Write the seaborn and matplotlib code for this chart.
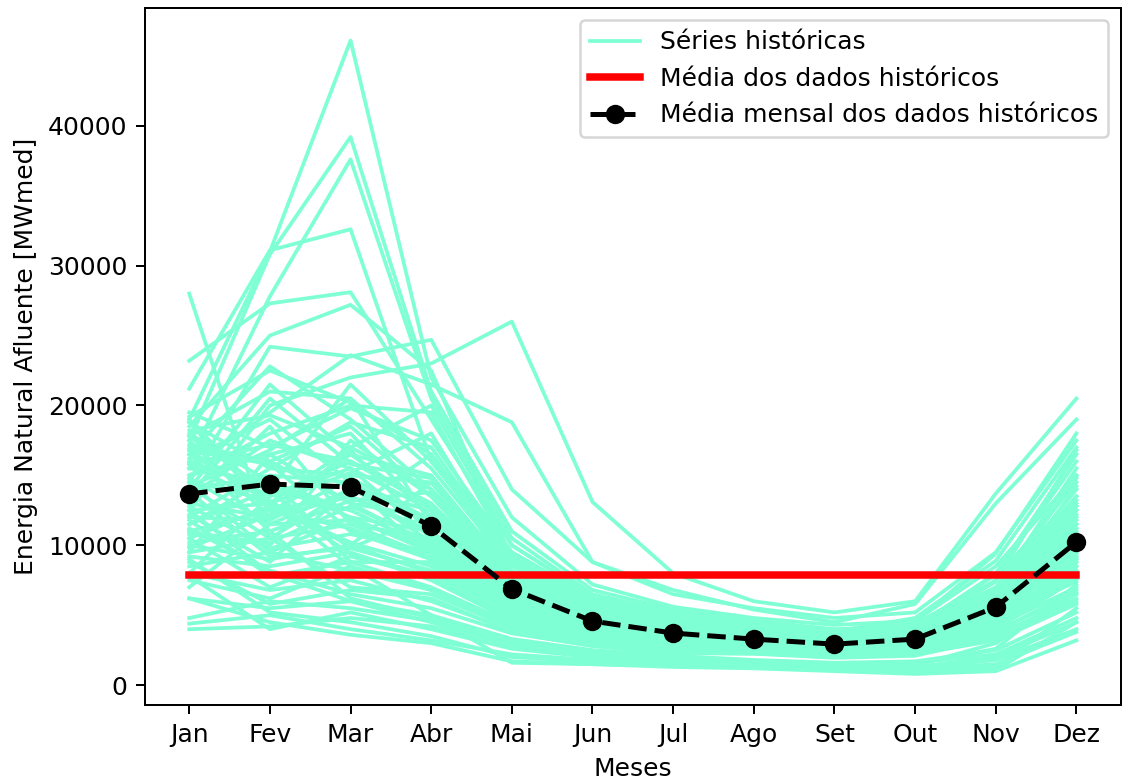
import numpy as np
import pandas as pd
import matplotlib
matplotlib.use("Agg")
import matplotlib.pyplot as plt
import seaborn as sns

meses = ["Jan", "Fev", "Mar", "Abr", "Mai", "Jun", "Jul", "Ago", "Set", "Out", "Nov", "Dez"]

# Historical series (MWmed), one row per year, Jan..Dez
series_grupo_1 = [
    [19000, 31000, 46100, 22000, 12000, 7200, 5600, 4800, 4300, 4600, 8500, 15000],
    [17500, 30800, 39200, 21000, 11000, 6800, 5400, 4600, 4000, 4200, 7000, 13500],
    [16000, 27800, 37600, 20500, 10500, 6500, 5200, 4500, 3900, 4000, 6500, 12500],
    [21200, 31100, 32600, 16000, 9500, 6200, 5000, 4300, 3800, 4400, 7500, 14500],
    [28000, 10500, 14000, 12500, 7000, 4800, 3900, 3400, 3000, 3300, 5800, 11000],
    [23200, 27300, 28100, 19000, 10000, 6400, 5000, 4200, 3700, 4100, 8000, 16500],
    [18500, 25000, 27200, 22500, 9000, 6000, 4800, 4100, 3600, 3800, 6800, 13000],
    [14500, 24200, 23500, 24700, 14000, 8800, 6500, 5500, 4800, 5200, 9500, 17500],
    [12500, 20000, 22000, 23000, 26000, 13100, 8000, 6000, 5200, 6000, 13700, 20500],
    [15500, 19500, 23600, 21500, 18800, 8800, 6800, 5400, 4500, 5800, 13000, 19000],
]
series_grupo_2 = [
    [19200, 22500, 20200, 16500, 9000, 6000, 4800, 4250, 3750, 3900, 6400, 12000],
    [17800, 21000, 20500, 15500, 8500, 5800, 4600, 4150, 3650, 3800, 5900, 11500],
    [19500, 17000, 19800, 17500, 9500, 6200, 4900, 4450, 3850, 4800, 8900, 17000],
    [16500, 22800, 19000, 14000, 8000, 5400, 4300, 3950, 3550, 4200, 7900, 16000],
    [18200, 19300, 17000, 20000, 10000, 6300, 5000, 4450, 3950, 4100, 6600, 15000],
    [15000, 18000, 20000, 19500, 9200, 5900, 4700, 4250, 3750, 4500, 9400, 18000],
    [17000, 16000, 18500, 13500, 7500, 5200, 4200, 3850, 3450, 3700, 6900, 14000],
    [16000, 14000, 21500, 16000, 8800, 5600, 4500, 4050, 3550, 3900, 6200, 12800],
    [14000, 21500, 16500, 12500, 7200, 4900, 4000, 3650, 3250, 3500, 5600, 10500],
    [18800, 15500, 15000, 14500, 8200, 5500, 4400, 3950, 3450, 4000, 7400, 16800],
]
series_grupo_3 = [
    [15000, 16500, 18000, 12000, 7000, 4800, 3900, 3650, 3250, 3600, 5900, 10000],
    [14000, 15000, 14500, 11500, 6800, 4600, 3800, 3550, 3150, 3400, 5400, 9500],
    [16500, 13500, 16000, 13000, 7200, 4900, 3900, 3650, 3250, 3700, 6400, 11500],
    [13500, 17500, 15500, 10500, 6500, 4500, 3700, 3450, 3050, 3300, 5200, 9000],
    [18800, 12500, 13500, 11000, 6600, 4600, 3700, 3450, 3150, 3600, 6000, 12000],
    [15500, 14500, 12000, 9500, 6000, 4300, 3500, 3350, 3050, 3500, 6200, 10800],
    [12500, 13000, 17000, 14000, 7500, 5000, 4000, 3750, 3350, 3800, 6600, 13200],
    [17200, 16000, 13000, 10000, 6200, 4400, 3600, 3350, 2950, 3200, 4900, 8500],
    [14800, 11500, 14000, 12500, 7000, 4700, 3800, 3550, 3150, 3500, 5600, 9800],
    [16800, 15800, 11000, 9000, 5800, 4200, 3400, 3250, 2950, 3400, 5800, 11200],
]
series_grupo_4 = [
    [13000, 12000, 13500, 10800, 6300, 4400, 3600, 3350, 2950, 3300, 5300, 8800],
    [11500, 14000, 12500, 9800, 5900, 4200, 3400, 3250, 2850, 3200, 5000, 9200],
    [14200, 10500, 11500, 9200, 5600, 4000, 3300, 3150, 2850, 3300, 5400, 10200],
    [12000, 11800, 14800, 11800, 6500, 4500, 3600, 3350, 2950, 3100, 4700, 7800],
    [15800, 12800, 10200, 8500, 5400, 3900, 3200, 3050, 2750, 3200, 5700, 12500],
    [10800, 10200, 12800, 10200, 6000, 4200, 3400, 3250, 2850, 3300, 6000, 11800],
    [13800, 9200, 9800, 8200, 5200, 3800, 3100, 2950, 2650, 2900, 4600, 8200],
    [11000, 12500, 11200, 9000, 5500, 3900, 3200, 3050, 2750, 3000, 4900, 9600],
    [12800, 9800, 10800, 9500, 5700, 4000, 3300, 3150, 2750, 3100, 5100, 10500],
    [14600, 13200, 9400, 7800, 5000, 3700, 3000, 2950, 2650, 3000, 4800, 7400],
]
series_grupo_5 = [
    [10000, 9000, 10000, 8000, 4800, 3500, 2900, 2750, 2450, 2700, 4200, 7000],
    [9200, 8500, 9500, 7500, 4600, 3400, 2800, 2650, 2350, 2600, 3900, 6500],
    [11800, 7800, 8800, 7000, 4400, 3200, 2600, 2550, 2250, 2500, 4000, 7600],
    [8500, 9500, 8200, 6800, 4200, 3100, 2600, 2450, 2250, 2800, 5200, 9000],
    [10500, 7000, 9200, 7800, 4700, 3300, 2700, 2650, 2350, 2900, 4400, 8000],
    [8000, 6800, 7500, 6000, 3900, 2900, 2400, 2350, 2150, 2300, 3600, 6200],
    [9500, 10500, 7000, 6500, 4100, 3000, 2500, 2450, 2150, 2400, 3800, 6800],
    [7500, 6200, 8500, 6800, 4000, 2900, 2400, 2350, 2050, 2200, 3200, 5800],
    [11200, 8200, 6500, 5500, 3700, 2800, 2300, 2250, 2050, 2500, 4600, 8500],
    [8800, 5800, 6800, 6200, 3800, 2800, 2300, 2250, 1950, 2100, 3400, 6000],
]
series_grupo_6 = [
    [6200, 5500, 6000, 5000, 3300, 2500, 2100, 1800, 1600, 1700, 2500, 5200],
    [4800, 6000, 5500, 4600, 3100, 2400, 2000, 1700, 1500, 1600, 2200, 4800],
    [4000, 4200, 4800, 4200, 2900, 2200, 1900, 1600, 1400, 1300, 2000, 4500],
    [7800, 4000, 5200, 4000, 2600, 2000, 1700, 1500, 1300, 1200, 1800, 4000],
    [4400, 5000, 4000, 3200, 2200, 1800, 1600, 1400, 1200, 1100, 1500, 3800],
    [6200, 4500, 3600, 3000, 1700, 1500, 1300, 1200, 1000, 800, 1000, 3200],
    [16800, 13000, 8500, 5000, 1600, 1500, 1400, 1300, 1200, 1000, 1100, 4500],
    [9000, 5200, 4500, 3500, 2000, 1700, 1500, 1300, 1100, 900, 1300, 5500],
    [12500, 8000, 6000, 4500, 2800, 2200, 1800, 1600, 1400, 1500, 2600, 7200],
    [10200, 11000, 6200, 4800, 3000, 2300, 1900, 1700, 1500, 1400, 3000, 6600],
]
series_grupo_7 = [
    [17500, 12000, 16500, 15000, 8000, 5200, 4200, 3700, 3200, 3500, 6000, 12500],
    [9500, 16500, 13000, 12000, 6800, 4600, 3800, 3400, 3000, 3400, 5200, 8800],
    [13000, 18500, 11500, 10500, 6500, 4500, 3700, 3300, 2900, 3200, 6500, 13500],
    [11000, 10000, 17500, 13500, 7200, 4800, 3900, 3400, 3000, 3300, 5000, 9200],
    [18000, 14500, 12500, 16500, 7800, 5000, 4000, 3500, 3100, 3000, 4800, 11500],
    [8000, 13500, 15500, 12500, 6800, 4500, 3600, 3200, 2800, 3100, 5800, 10500],
    [14500, 9500, 12000, 11000, 6200, 4300, 3500, 3100, 2700, 3200, 5500, 12200],
    [16200, 19000, 14500, 9000, 5800, 4100, 3400, 3000, 2600, 2900, 4600, 7800],
    [12000, 15500, 18800, 17000, 9000, 5600, 4400, 3800, 3300, 3700, 6800, 14800],
    [10500, 12800, 10000, 14500, 7500, 4900, 3900, 3400, 3000, 3200, 5300, 9000],
]
series_grupo_8 = [
    [15800, 17200, 16000, 12800, 7200, 4800, 3900, 3400, 3000, 3400, 5700, 11200],
    [12200, 8800, 14200, 10200, 6400, 4400, 3600, 3200, 2800, 3000, 4600, 8200],
    [19000, 13000, 15200, 18000, 8600, 5400, 4300, 3700, 3200, 3600, 6300, 14200],
    [7000, 11500, 11800, 9800, 5800, 4000, 3300, 2900, 2600, 2800, 5000, 10800],
    [14200, 16800, 20500, 11500, 6900, 4700, 3800, 3300, 2900, 3300, 5900, 12800],
    [11500, 14800, 8800, 8800, 5400, 3900, 3200, 2800, 2500, 2900, 4400, 7600],
    [16500, 11000, 13200, 13800, 7600, 5000, 4000, 3500, 3100, 3600, 6900, 15500],
    [9800, 12200, 16800, 10800, 6300, 4300, 3500, 3100, 2700, 3000, 5400, 9600],
    [13500, 20500, 15800, 14800, 8100, 5300, 4200, 3600, 3100, 3400, 5600, 10200],
    [17800, 13800, 9800, 12200, 6700, 4600, 3700, 3300, 2900, 3200, 5000, 9400],
]

# Monthly mean of historical data
media_mensal = [13670, 14380, 14170, 11380, 6870, 4580, 3720, 3290, 2930, 3290, 5580, 10230]
media_geral = 7870

grupos = [series_grupo_1, series_grupo_2, series_grupo_3, series_grupo_4,
          series_grupo_5, series_grupo_6, series_grupo_7, series_grupo_8]
rows = []
sid = 0
for g in grupos:
    for serie in g:
        for m, v in enumerate(serie):
            rows.append({"serie": sid, "mes": m, "ena": v})
        sid += 1
df = pd.DataFrame(rows)

plt.rcParams["font.family"] = ["DejaVu Sans"]
plt.rcParams["font.size"] = 10

DPI = 180
fig, ax = plt.subplots(figsize=(1123 / DPI, 780 / DPI), dpi=DPI)
fig.subplots_adjust(left=0.129, right=0.998, top=0.99, bottom=0.096)

aqua = "#7FFFD4"
sns.lineplot(data=df, x="mes", y="ena", units="serie", estimator=None,
             color=aqua, lw=1.5, legend=False, ax=ax)
h_hist = ax.lines[0]

x_idx = list(range(len(meses)))
sns.lineplot(x=x_idx, y=[media_geral] * len(meses), color="red", lw=3, ax=ax,
             legend=False)
h_red = ax.lines[-1]
sns.lineplot(x=x_idx, y=media_mensal, color="black", lw=2, ls="--",
             marker="o", markersize=7, markeredgecolor="black", ax=ax, legend=False)
h_blk = ax.lines[-1]

ax.legend([h_hist, h_red, h_blk],
          ["Séries históricas", "Média dos dados históricos",
           "Média mensal dos dados históricos"], loc="upper right")

ax.set_xticks(x_idx)
ax.set_xticklabels(meses)
ax.set_xlim(-0.55, 11.55)
ax.set_ylim(-1430, 48440)
ax.set_yticks([0, 10000, 20000, 30000, 40000])
ax.set_xlabel("Meses")
ax.set_ylabel("Energia Natural Afluente [MWmed]")

fig.savefig("out.png", dpi=DPI)
